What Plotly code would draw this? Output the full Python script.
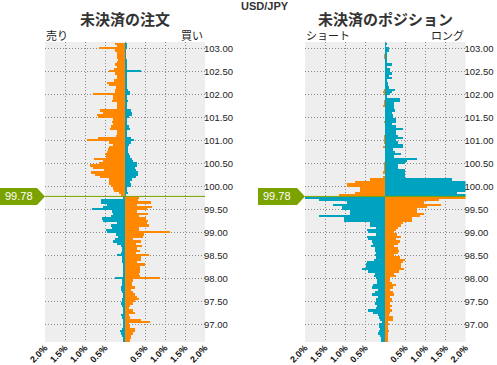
import plotly.graph_objects as go

# ---- data (bucket prices, top to bottom, 0.05 yen buckets) ----
prices = [round(103.10 - 0.05 * i, 2) for i in range(130)]
current_price = 99.78

# open orders: left side (sell) and right side (buy), % of total
order_sell = [
    0.24, 0.20, 0.64, 0.24, 0.21, 0.19, 0.21, 0.18, 0.21, 0.25,
    0.21, 0.27, 0.39, 0.24, 0.21, 0.21, 0.27, 0.44, 0.39, 0.22,
    0.24, 0.25, 0.79, 0.29, 0.29, 0.32, 0.19, 0.19, 0.21, 0.62,
    0.54, 0.70, 0.68, 0.29, 0.33, 0.29, 0.35, 0.38, 0.21, 0.21,
    0.22, 0.68, 0.94, 0.39, 0.29, 0.39, 0.43, 0.45, 0.49, 0.48,
    0.77, 0.54, 0.66, 0.87, 0.81, 0.52, 0.84, 0.75, 0.62, 0.41,
    0.39, 0.39, 0.36, 0.31, 0.27, 0.16, 0.10,
    0.05, 0.60, 0.60, 0.45, 0.55, 0.82, 0.32, 0.30, 0.35, 0.57,
    0.55, 0.20, 0.35, 0.33, 0.47, 0.45, 0.22, 0.18, 0.25, 0.30,
    0.20, 0.10, 0.08, 0.08, 0.10, 0.20, 0.07, 0.07, 0.08, 0.06,
    0.06, 0.05,
    0.05, 0.05, 0.05, 0.24, 0.08, 0.08, 0.08, 0.10, 0.10, 0.08,
    0.05, 0.05, 0.08, 0.08, 0.10, 0.08, 0.05, 0.05, 0.05, 0.10,
    0.08, 0.05, 0.05, 0.03, 0.05, 0.08, 0.12, 0.10, 0.08, 0.05,
    0.05,
]
order_buy = [
    0.03, 0.03, 0.03, 0.02, 0.02, 0.02, 0.02, 0.03, 0.05, 0.05,
    0.03, 0.03, 0.40, 0.03, 0.03, 0.04, 0.04, 0.04, 0.04, 0.05,
    0.08, 0.12, 0.12, 0.05, 0.05, 0.08, 0.03, 0.03, 0.03, 0.15,
    0.18, 0.18, 0.11, 0.05, 0.05, 0.05, 0.11, 0.13, 0.05, 0.05,
    0.05, 0.15, 0.23, 0.15, 0.11, 0.08, 0.08, 0.08, 0.11, 0.13,
    0.17, 0.21, 0.29, 0.30, 0.26, 0.28, 0.32, 0.33, 0.28, 0.18,
    0.13, 0.15, 0.16, 0.05, 0.05, 0.08, 0.01,
    0.36, 0.33, 0.65, 0.30, 0.68, 0.55, 0.30, 0.57, 0.35, 0.53,
    0.58, 0.55, 0.60, 0.35, 0.36, 1.13, 0.48, 0.45, 0.20, 0.40,
    0.28, 0.42, 0.30, 0.38, 0.28, 0.60, 0.40, 0.40, 0.30, 0.50,
    0.38, 0.38,
    0.37, 0.35, 0.37, 0.88, 0.20, 0.17, 0.17, 0.25, 0.15, 0.20,
    0.25, 0.30, 0.35, 0.25, 0.20, 0.12, 0.10, 0.20, 0.25, 0.10,
    0.12, 0.40, 0.63, 0.10, 0.12, 0.25, 0.25, 0.20, 0.15, 0.15,
    0.12,
]

# open positions: left side (short) and right side (long), % of total
pos_short = [
    0.00, 0.00, 0.00, 0.00, 0.00, 0.03, 0.03, 0.00, 0.00, 0.00,
    0.00, 0.00, 0.00, 0.00, 0.00, 0.00, 0.00, 0.00, 0.00, 0.00,
    0.03, 0.05, 0.03, 0.00, 0.00, 0.03, 0.03, 0.05, 0.00, 0.00,
    0.00, 0.00, 0.00, 0.00, 0.03, 0.00, 0.00, 0.00, 0.00, 0.00,
    0.03, 0.03, 0.03, 0.03, 0.00, 0.05, 0.00, 0.00, 0.00, 0.00,
    0.00, 0.00, 0.03, 0.03, 0.03, 0.03, 0.05, 0.00, 0.05, 0.38,
    0.76, 0.95, 0.95, 0.62, 0.62, 0.76, 1.16,
    2.50, 1.65, 0.95, 1.30, 1.09, 1.09, 0.88, 0.87, 1.65, 1.03,
    1.03, 0.38, 0.37, 0.23, 0.45, 0.43, 0.23, 0.45, 0.43, 0.32,
    0.30, 0.36, 0.26, 0.26, 0.23, 0.25, 0.22, 0.28, 0.45, 0.47,
    0.47, 0.58,
    0.42, 0.26, 0.28, 0.22, 0.20, 0.20, 0.30, 0.34, 0.18, 0.26,
    0.34, 0.18, 0.22, 0.23, 0.26, 0.20, 0.23, 0.42, 0.30, 0.18,
    0.15, 0.13, 0.09, 0.15, 0.15, 0.13, 0.15, 0.18, 0.12, 0.10,
    0.10,
]
pos_long = [
    0.03, 0.01, 0.10, 0.10, 0.03, 0.05, 0.05, 0.03, 0.03, 0.18,
    0.05, 0.12, 0.13, 0.16, 0.10, 0.18, 0.05, 0.08, 0.08, 0.10,
    0.24, 0.18, 0.13, 0.03, 0.37, 0.37, 0.22, 0.22, 0.22, 0.24,
    0.18, 0.20, 0.20, 0.27, 0.27, 0.18, 0.28, 0.43, 0.28, 0.27,
    0.33, 0.45, 0.28, 0.33, 0.45, 0.43, 0.20, 0.24, 0.38, 0.22,
    0.80, 0.53, 0.49, 0.33, 0.33, 0.49, 0.49, 0.49, 0.49, 1.66,
    2.50, 2.50, 2.50, 2.50, 2.50, 1.78, 2.50,
    2.50, 1.34, 0.97, 1.38, 1.05, 0.78, 0.78, 0.97, 0.87, 0.66,
    0.66, 0.45, 0.38, 0.33, 0.27, 0.22, 0.30, 0.38, 0.27, 0.37,
    0.33, 0.22, 0.33, 0.35, 0.33, 0.22, 0.37, 0.49, 0.45, 0.38,
    0.38, 0.47,
    0.35, 0.22, 0.27, 0.12, 0.13, 0.16, 0.27, 0.20, 0.12, 0.20,
    0.22, 0.12, 0.16, 0.16, 0.13, 0.16, 0.13, 0.16, 0.12, 0.10,
    0.20, 0.20, 0.08, 0.10, 0.08, 0.08, 0.10, 0.08, 0.08, 0.08,
    0.07,
]

x_tickvals = [-2, -1.5, -1, -0.5, 0, 0.5, 1, 1.5, 2]
x_ticktext = ["2.0%", "1.5%", "1.0%", "0.5%", "", "0.5%", "1.0%", "1.5%", "2.0%"]
y_tickvals = [97.0, 97.5, 98.0, 98.5, 99.0, 99.5, 100.0, 100.5, 101.0, 101.5, 102.0, 102.5, 103.0]
y_ticktext = ["%.2f" % v for v in y_tickvals]

# ---- style ----
W, H = 497, 365
ORANGE = "#FF8800"
TEAL = "#00A3BF"
TAG = "#7BA300"
BG = "#EEEEEE"
GRID = "#8A8A8A"
FONT = "Liberation Sans, Arial, sans-serif"
CJK = "Noto Sans CJK JP, sans-serif"

left_colors = [ORANGE if p > current_price else TEAL for p in prices]
right_colors = [TEAL if p > current_price else ORANGE for p in prices]

fig = go.Figure()
for xa, ya, left, right in [("x", "y", order_sell, order_buy), ("x2", "y2", pos_short, pos_long)]:
    fig.add_trace(go.Bar(y=prices, x=[-v for v in left], orientation="h", width=0.05,
                         marker=dict(color=left_colors, line=dict(width=0)),
                         xaxis=xa, yaxis=ya, hoverinfo="skip"))
    fig.add_trace(go.Bar(y=prices, x=right, orientation="h", width=0.05,
                         marker=dict(color=right_colors, line=dict(width=0)),
                         xaxis=xa, yaxis=ya, hoverinfo="skip"))

def px_x(v):
    return v / W

def px_y(v):
    return 1 - v / H

ydom = [px_y(342), px_y(42)]
xcommon = dict(range=[-2, 2], tickvals=x_tickvals, ticktext=x_ticktext, tickangle=-45,
               showgrid=True, gridcolor=GRID, griddash="1px,2px", gridwidth=1, zeroline=False,
               ticks="", showline=False, fixedrange=True, automargin=False, ticklabelstandoff=-2,
               tickfont=dict(family=FONT, size=9, color="#111", weight="bold"))
ycommon = dict(range=[96.615, 103.137], domain=ydom, tickvals=y_tickvals, ticktext=y_ticktext,
               side="right", showgrid=True, gridcolor=GRID, griddash="1px,2px", gridwidth=1,
               zeroline=False, ticks="", showline=False, fixedrange=True, automargin=False,
               ticklabelstandoff=-2,
               tickfont=dict(family=FONT, size=9.5, color="#222"))

fig.update_layout(
    width=W, height=H, margin=dict(l=0, r=0, t=0, b=0, autoexpand=False),
    paper_bgcolor="white", plot_bgcolor=BG, showlegend=False,
    barmode="overlay", bargap=0,
    xaxis=dict(domain=[px_x(45), px_x(205)], anchor="y", **xcommon),
    yaxis=dict(anchor="x", **ycommon),
    xaxis2=dict(domain=[px_x(305), px_x(465.5)], anchor="y2", **xcommon),
    yaxis2=dict(anchor="x2", **ycommon),
)

shapes = []
annotations = []
# current price lines
for xd, yr in [("x domain", "y"), ("x2 domain", "y2")]:
    shapes.append(dict(type="line", xref=xd, yref=yr, x0=0, x1=1, y0=current_price, y1=current_price,
                       line=dict(color=TAG, width=1), layer="above"))

# price tags
yc = 48.3 + (103 - current_price) * 46
for x0, tip in [(0, 45), (258, 305)]:
    pts = [(x0, yc - 8.5), (tip - 8, yc - 8.5), (tip, yc), (tip - 8, yc + 8.5), (x0, yc + 8.5)]
    path = "M " + " L ".join("%f,%f" % (px_x(a), px_y(b)) for a, b in pts) + " Z"
    shapes.append(dict(type="path", xref="paper", yref="paper", path=path,
                       fillcolor=TAG, line=dict(width=0), layer="above"))
    annotations.append(dict(xref="paper", yref="paper", x=px_x(x0 + 3), y=px_y(yc), xanchor="left",
                            yanchor="middle", text=str(current_price), showarrow=False,
                            font=dict(family=FONT, size=11, color="white")))

def label(text, x, y, anchor="center", size=11, weight="normal", color="#222", family=CJK):
    annotations.append(dict(xref="paper", yref="paper", x=px_x(x), y=px_y(y), xanchor=anchor,
                            yanchor="middle", text=text, showarrow=False,
                            font=dict(family=family, size=size, color=color, weight=weight)))

label("USD/JPY", 265, 6, size=11, weight="bold", color="#333", family=FONT)
label("未決済の注文", 125, 18, size=15, weight="bold", color="#333")
label("未決済のポジション", 385, 18, size=15, weight="bold", color="#333")
label("売り", 44, 35, anchor="left")
label("買い", 205, 35, anchor="right")
label("ショート", 304, 35, anchor="left")
label("ロング", 466, 35, anchor="right")

fig.update_layout(shapes=shapes, annotations=annotations)
fig.write_html("out.html", config={"displayModeBar": False},
               post_script="document.body.style.margin='0';document.body.style.overflow='hidden';")
